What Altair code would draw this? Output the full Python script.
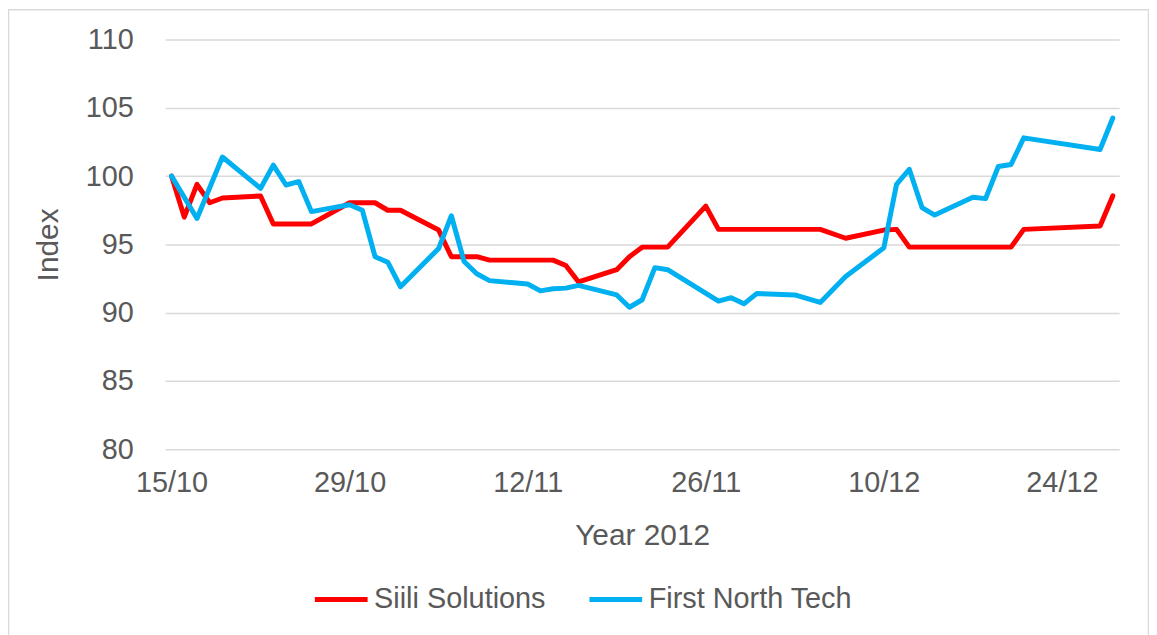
import altair as alt
import pandas as pd

# ---- data ----
siili_dates = [
    "2012-10-15", "2012-10-16", "2012-10-17", "2012-10-18", "2012-10-19",
    "2012-10-22", "2012-10-23", "2012-10-24", "2012-10-25", "2012-10-26",
    "2012-10-29", "2012-10-30", "2012-10-31", "2012-11-01", "2012-11-02",
    "2012-11-05", "2012-11-06", "2012-11-07", "2012-11-08", "2012-11-09",
    "2012-11-12", "2012-11-13", "2012-11-14", "2012-11-15", "2012-11-16",
    "2012-11-19", "2012-11-20", "2012-11-21", "2012-11-22", "2012-11-23",
    "2012-11-26", "2012-11-27", "2012-11-28", "2012-11-29", "2012-11-30",
    "2012-12-03", "2012-12-04", "2012-12-05", "2012-12-07",
    "2012-12-10", "2012-12-11", "2012-12-12", "2012-12-13", "2012-12-14",
    "2012-12-17", "2012-12-18", "2012-12-19", "2012-12-20", "2012-12-21",
    "2012-12-27", "2012-12-28",
]
siili_values = [
    100.0, 97.0, 99.4, 98.05, 98.4,
    98.55, 96.5, 96.5, 96.5, 96.5,
    98.05, 98.05, 98.05, 97.5, 97.5,
    96.05, 94.1, 94.1, 94.1, 93.85,
    93.85, 93.85, 93.85, 93.45, 92.25,
    93.15, 94.1, 94.8, 94.8, 94.8,
    97.8, 96.1, 96.1, 96.1, 96.1,
    96.1, 96.1, 96.1, 95.45,
    96.05, 96.1, 94.8, 94.8, 94.8,
    94.8, 94.8, 94.8, 94.8, 96.1,
    96.35, 98.55,
]

fnt_dates = [
    "2012-10-15", "2012-10-17", "2012-10-19",
    "2012-10-22", "2012-10-23", "2012-10-24", "2012-10-25", "2012-10-26",
    "2012-10-29", "2012-10-30", "2012-10-31", "2012-11-01", "2012-11-02",
    "2012-11-05", "2012-11-06", "2012-11-07", "2012-11-08", "2012-11-09",
    "2012-11-12", "2012-11-13", "2012-11-14", "2012-11-15", "2012-11-16",
    "2012-11-19", "2012-11-20", "2012-11-21", "2012-11-22", "2012-11-23",
    "2012-11-27", "2012-11-28", "2012-11-29", "2012-11-30",
    "2012-12-03", "2012-12-05", "2012-12-07",
    "2012-12-10", "2012-12-11", "2012-12-12", "2012-12-13", "2012-12-14",
    "2012-12-17", "2012-12-18", "2012-12-19", "2012-12-20", "2012-12-21",
    "2012-12-27", "2012-12-28",
]
fnt_values = [
    100.0, 96.9, 101.4,
    99.1, 100.8, 99.35, 99.6, 97.4,
    97.9, 97.5, 94.1, 93.7, 91.9,
    94.7, 97.1, 93.75, 92.85, 92.35,
    92.1, 91.6, 91.75, 91.8, 92.0,
    91.3, 90.4, 90.95, 93.3, 93.15,
    90.85, 91.1, 90.65, 91.4,
    91.3, 90.75, 92.65,
    94.75, 99.4, 100.5, 97.7, 97.15,
    98.45, 98.35, 100.7, 100.85, 102.8,
    101.95, 104.25,
]

series_names = ["Siili Solutions", "First North Tech"]
series_colors = ["#FF0000", "#00B0F0"]
y_ticks = [80, 85, 90, 95, 100, 105, 110]
x_tick_dates = ["2012-10-15", "2012-10-29", "2012-11-12", "2012-11-26", "2012-12-10", "2012-12-24"]

df = pd.concat([
    pd.DataFrame({"date": siili_dates, "value": siili_values, "series": series_names[0]}),
    pd.DataFrame({"date": fnt_dates, "value": fnt_values, "series": series_names[1]}),
], ignore_index=True)

FONT = "Liberation Sans"
TXT = "#595959"
GRID = "#D9D9D9"


def dt(s, hours=0):
    y, m, d = (int(p) for p in s.split("-"))
    return alt.DateTime(year=y, month=m, date=d, hours=hours, utc=True)


x_domain = [dt("2012-10-14", 12), dt("2012-12-28", 12)]

lines = alt.Chart(df).mark_line(strokeWidth=5, strokeJoin="round", strokeCap="round").encode(
    x=alt.X(
        "date:T",
        scale=alt.Scale(type="utc", domain=x_domain),
        axis=alt.Axis(
            values=[dt(s) for s in x_tick_dates],
            labelExpr="utcFormat(datum.value, '%d/%m')",
            title="Year 2012",
            grid=False,
            ticks=False,
            domain=False,
            labelFontSize=29,
            labelPadding=19,
            titleFontSize=30,
            titlePadding=24,
        ),
    ),
    y=alt.Y(
        "value:Q",
        scale=alt.Scale(domain=[80, 110], nice=False, zero=False),
        axis=alt.Axis(
            values=y_ticks,
            title="Index",
            grid=True,
            ticks=False,
            domain=False,
            labelFontSize=29,
            labelPadding=32,
            titleFontSize=30,
            titlePadding=22,
        ),
    ),
    color=alt.Color(
        "series:N",
        scale=alt.Scale(domain=series_names, range=series_colors),
        legend=alt.Legend(
            title=None,
            orient="none",
            legendX=148,
            legendY=534,
            direction="horizontal",
            symbolType="stroke",
            symbolSize=2809,
            symbolStrokeWidth=5,
            labelFontSize=29,
            labelOffset=4,
            labelLimit=400,
            columnPadding=33,
            padding=0,
        ),
    ),
    order=alt.Order("date:T"),
)

frame = alt.Chart(pd.DataFrame({"k": [0]})).mark_rect(
    filled=False, stroke=GRID, strokeWidth=1.5
).encode(
    x=alt.value(-157.5), x2=alt.value(988.5), y=alt.value(-30), y2=alt.value(700)
)

chart = alt.layer(frame, lines).properties(
    width=959,
    height=412,
    autosize=alt.AutoSizeParams(type="none"),
    padding={"left": 158, "top": 30, "right": 30, "bottom": 185},
).configure(
    font=FONT,
    background="white",
).configure_view(
    stroke=None,
).configure_axis(
    labelColor=TXT,
    titleColor=TXT,
    labelFont=FONT,
    titleFont=FONT,
    titleFontWeight="normal",
    gridColor=GRID,
    gridWidth=1.5,
).configure_legend(
    labelColor=TXT,
    labelFont=FONT,
)

chart.save("out.html", embed_options={"renderer": "svg", "actions": False})
